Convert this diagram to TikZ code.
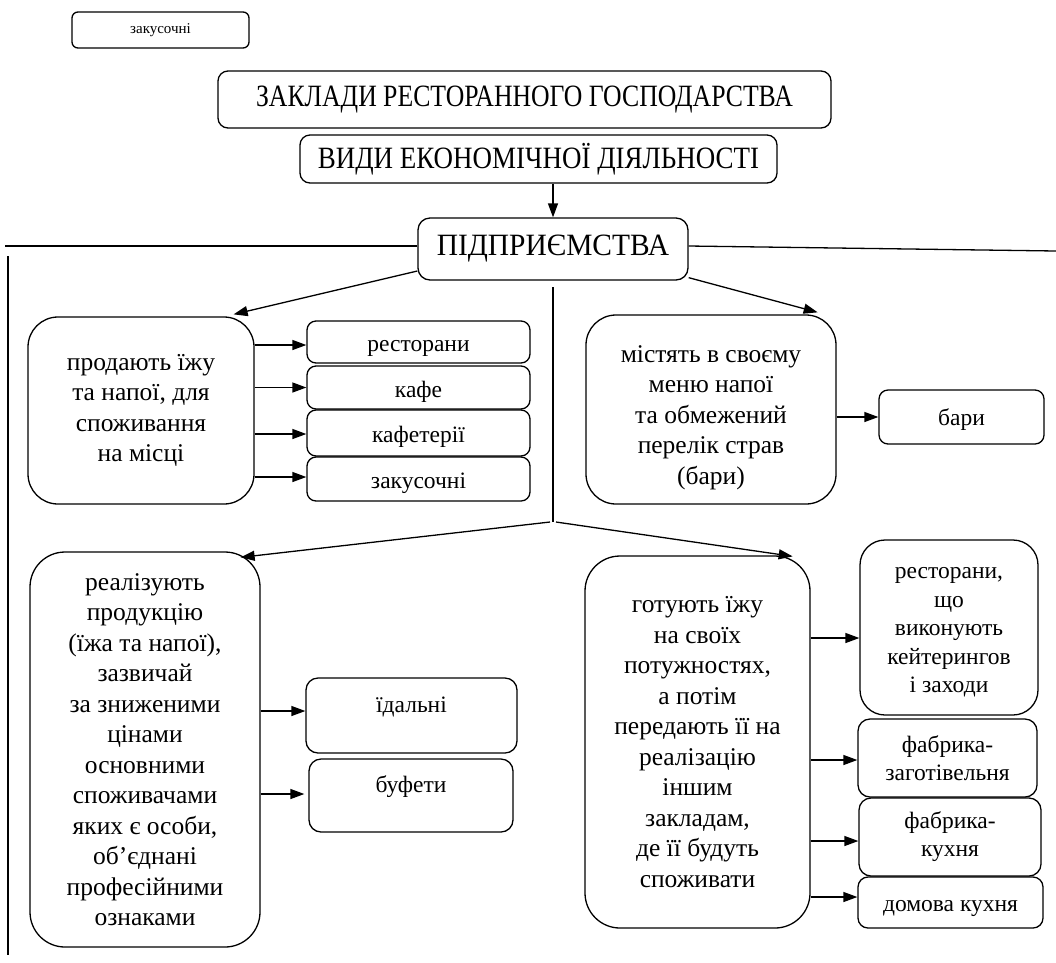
\documentclass[tikz,border=0pt]{standalone}
\usepackage{fontspec}
\setmainfont{Liberation Serif}
\usetikzlibrary{arrows.meta,calc}
\begin{document}
\begin{tikzpicture}[x=1pt,y=-1pt,
  every node/.style={inner sep=0pt, align=center},
  bx/.style={draw, line width=1.3pt, rounded corners=#1},
  bx/.default=9pt,
  body/.style={font=\fontsize{25.5}{30.5}\selectfont},
  small/.style={font=\fontsize{23.5}{28}\selectfont},
  one/.style={text height=#1, text depth=5pt},
  one/.default=22pt,
  head/.style={font=\addfontfeature{FakeStretch=#1}\fontsize{31}{36}\selectfont},
  conn/.style={line width=1.3pt},
  arr/.style={line width=1.3pt, -{Triangle[length=14pt,width=10pt]}}]
\useasboundingbox (0,0) rectangle (1056,962);

% top-left small box
\node[bx=6pt, minimum width=177pt, minimum height=36pt, font=\fontsize{15}{18}\selectfont] (z0) at (160.5,30) {закусочні};

% header boxes
\node[bx=10pt, head=0.83, minimum width=613pt, minimum height=57pt] (zak) at (524.5,99.5) {ЗАКЛАДИ РЕСТОРАННОГО ГОСПОДАРСТВА};
\node[bx=10pt, head=0.87, minimum width=477pt, minimum height=48pt] (vyd) at (538.5,159) {ВИДИ ЕКОНОМІЧНОЇ ДІЯЛЬНОСТІ};
\node[bx=12pt, head=0.95, minimum width=270pt, minimum height=62pt] (pid) at (553,249) {ПІДПРИЄМСТВА};

% first level boxes
\node[bx=30pt, body, minimum width=226pt, minimum height=187pt] (b1) at (141,410.5) {продають їжу\\та напої, для\\споживання\\на місці};
\node[bx=30pt, body, minimum width=250pt, minimum height=189pt] (b2) at (711,409.5) {\rule{0pt}{33pt}містять в своєму\\меню напої\\та обмежений\\перелік страв\\(бари)};
\node[bx=35pt, body, minimum width=230pt, minimum height=395pt] (b3) at (145,749.5) {реалізують\\продукцію\\(їжа та напої),\\зазвичай\\за зниженими\\цінами\\основними\\споживачами\\яких є особи,\\об’єднані\\професійними\\ознаками};
\node[bx=35pt, body, minimum width=225pt, minimum height=372pt] (b4) at (697.5,742) {готують їжу\\на своїх\\потужностях,\\а потім\\передають її на\\реалізацію\\іншим\\закладам,\\де її будуть\\споживати};

% right-hand boxes of b1
\node[bx, small, one=24pt, minimum width=223pt, minimum height=42pt] (r1) at (418.5,342) {ресторани};
\node[bx, small, one=24pt, minimum width=223pt, minimum height=43pt] (r2) at (418.5,387.5) {кафе};
\node[bx, small, one=24pt, minimum width=223pt, minimum height=46pt] (r3) at (418.5,433) {кафетерії};
\node[bx, small, one=24pt, minimum width=223pt, minimum height=44pt] (r4) at (418.5,479) {закусочні};

% bars
\node[bx, small, one, minimum width=165pt, minimum height=54pt] (bar) at (961.5,417) {бари};

% b3 boxes
\node[bx=12pt, small, minimum width=211pt, minimum height=75pt, text height=17pt, text depth=24pt] (id) at (411.5,715.5) {їдальні};
\node[bx=12pt, small, minimum width=204pt, minimum height=73pt, text height=17pt, text depth=24pt] (bf) at (411,795.5) {буфети};

% b4 boxes
\node[bx=25pt, small, minimum width=178pt, minimum height=175pt, font=\fontsize{23.5}{28.5}\selectfont] (c1) at (949,627.5) {\rule{0pt}{21pt}ресторани,\\що\\виконують\\кейтерингов\\і заходи};
\node[bx=12pt, small, minimum width=179pt, minimum height=78pt] (c2) at (947.5,758) {фабрика-\\заготівельня};
\node[bx=12pt, small, minimum width=182pt, minimum height=78pt] (c3) at (950,837) {фабрика-\\кухня};
\node[bx=10pt, small, one, minimum width=185pt, minimum height=51pt] (c4) at (950.5,902.5) {домова кухня};

% helper coordinates
\coordinate (L0) at (5,246);
\coordinate (R0) at (1056,251);
\coordinate (V0) at (8,256);
\coordinate (V1) at (8,955);
\coordinate (Jt) at (553,287);
\coordinate (J) at (553,522);

% connectors
\draw[arr] (vyd.south -| pid.north) -- (pid.north);
\draw[conn] (pid.west |- L0) -- (L0);
\draw[conn] (pid.east |- 0,246) -- (R0);
\draw[conn] (V0) -- (V1);
\draw[arr] ([yshift=-22pt]pid.west) -- ([xshift=-21pt,yshift=2pt]b1.north east);
\draw[arr] ([yshift=3pt]pid.south east) -- ([xshift=-19pt,yshift=2pt]b2.north east);
\draw[conn] (Jt) -- (J);
\draw[arr] ([xshift=-3pt]J) -- ([xshift=-20pt,yshift=-6pt]b3.north east);
\draw[arr] ([xshift=3pt]J) -- ([xshift=-18pt,yshift=-1pt]b4.north east);

\draw[arr] (b1.east |- 0,345) -- (r1.west |- 0,345);
\draw[arr] (b1.east |- r2.west) -- (r2.west);
\draw[arr] (b1.east |- 0,434) -- (r3.west |- 0,434);
\draw[arr] (b1.east |- 0,477) -- (r4.west |- 0,477);
\draw[arr] (b2.east |- bar.west) -- (bar.west);
\draw[arr] (b3.east |- 0,711) -- (id.west |- 0,711);
\draw[arr] (b3.east |- 0,794) -- ([xshift=-4pt]bf.west |- 0,794);
\draw[arr] (b4.east |- 0,638) -- (c1.west |- 0,638);
\draw[arr] (b4.east |- 0,760) -- (c2.west |- 0,760);
\draw[arr] (b4.east |- 0,841) -- (c3.west |- 0,841);
\draw[arr] (b4.east |- 0,897) -- (c4.west |- 0,897);
\end{tikzpicture}
\end{document}
